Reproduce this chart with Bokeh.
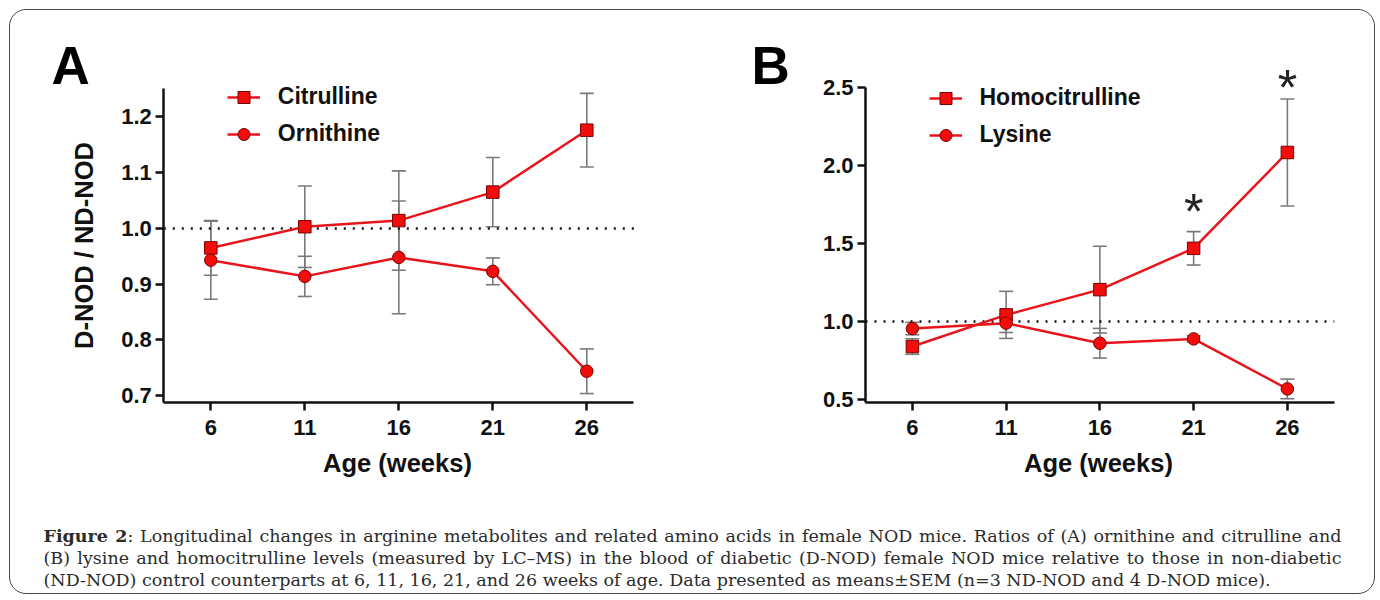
import math
from bokeh.plotting import figure
from bokeh.models import (ColumnDataSource, Whisker, TeeHead, Legend, LegendItem,
                          FixedTicker, PrintfTickFormatter, Label, Div, Range1d, LinearAxis)
from bokeh.layouts import row, column
from bokeh.embed import file_html
from bokeh.resources import INLINE

# ---------------- data ----------------
weeks = [6, 11, 16, 21, 26]

citrulline = [0.965, 1.003, 1.014, 1.065, 1.176]
citrulline_sem = [0.049, 0.073, 0.089, 0.062, 0.066]
ornithine = [0.943, 0.914, 0.948, 0.923, 0.744]
ornithine_sem = [0.070, 0.036, 0.101, 0.024, 0.040]

homocitrulline = [0.840, 1.043, 1.205, 1.470, 2.085]
homocitrulline_sem = [0.050, 0.151, 0.278, 0.107, 0.343]
lysine = [0.955, 0.990, 0.861, 0.889, 0.568]
lysine_sem = [0.040, 0.060, 0.095, 0.020, 0.063]

y_ticks_a = [0.7, 0.8, 0.9, 1.0, 1.1, 1.2]
y_ticks_b = [0.5, 1.0, 1.5, 2.0, 2.5]

star_weeks = [21, 26]
star_values = [1.70, 2.50]

reference_ratio = 1.0

caption_lines = [
    ("Figure 2", ": Longitudinal changes in arginine metabolites and related amino acids in female NOD mice. Ratios of (A) ornithine and citrulline and"),
    ("", "(B) lysine and homocitrulline levels (measured by LC\u2013MS) in the blood of diabetic (D-NOD) female NOD mice relative to those in non-diabetic"),
    ("", "(ND-NOD) control counterparts at 6, 11, 16, 21, and 26 weeks of age. Data presented as means\u00b1SEM (n=3 ND-NOD and 4 D-NOD mice)."),
]

# ---------------- styles / geometry ----------------
SANS = "Liberation Sans"
RED_LINE = "#e8141b"
RED_FILL = "#f20d0d"
MARKER_EDGE = "#7a0000"
ERR = "#7a7a7a"
INK = "#111111"

FIG_TOP = 10          # page y of the panels' top edge
PANEL_H = 485
X_AX = (3.5, 28.5)    # extent of the x axis line (weeks)
BASE_SHIFT = 0.38     # em; correction between requested and drawn alphabetic baseline


def rng(v0, p0, v1, p1, lo, hi):
    k = (v1 - v0) / (p1 - p0)
    a, b = v0 + (lo - p0) * k, v0 + (hi - p0) * k
    return Range1d(min(a, b), max(a, b))


def make_panel(letter, series, fig_left, width, x_px, y_ax, y_px, yticks,
               ylab_base_x, xlab_center_x, legend_glyph_x, legend_bottom, letter_x, stars=None):
    xr = rng(X_AX[0], x_px[0], X_AX[1], x_px[1], fig_left, fig_left + width)
    yr = rng(y_ax[0], y_px[0], y_ax[1], y_px[1], FIG_TOP, FIG_TOP + PANEL_H)
    p = figure(width=width, height=PANEL_H, x_range=xr, y_range=yr,
               output_backend="svg", toolbar_location=None,
               x_axis_location=None, y_axis_location=None, min_border=0)
    p.outline_line_color = None
    p.grid.visible = False
    p.background_fill_color = None
    p.border_fill_color = None

    def sx(page_x):
        return page_x - fig_left

    def sy(page_y):
        return FIG_TOP + PANEL_H - page_y

    # dotted reference line at ratio 1
    p.segment(x0=[X_AX[0]], y0=[reference_ratio], x1=[X_AX[1]], y1=[reference_ratio],
              line_color=INK, line_width=2.5, line_dash="2 7")

    items = []
    for name, vals, sems, marker in series:
        src = ColumnDataSource(dict(x=weeks, y=vals,
                                    upper=[v + s for v, s in zip(vals, sems)],
                                    lower=[v - s for v, s in zip(vals, sems)]))
        p.add_layout(Whisker(source=src, base="x", upper="upper", lower="lower",
                             line_color=ERR, line_width=1.6,
                             upper_head=TeeHead(size=14, line_color=ERR, line_width=1.6),
                             lower_head=TeeHead(size=14, line_color=ERR, line_width=1.6)))
        lr = p.line("x", "y", source=src, line_color=RED_LINE, line_width=2.5)
        sr = p.scatter("x", "y", source=src, marker=marker, size=12.5,
                       fill_color=RED_FILL, line_color=MARKER_EDGE, line_width=1)
        items.append(LegendItem(label=name, renderers=[lr, sr]))

    legend = Legend(items=items, location=(sx(legend_glyph_x), sy(legend_bottom)),
                    glyph_width=33, glyph_height=30, label_height=30, label_standoff=18,
                    spacing=7, padding=0, margin=0, border_line_color=None,
                    background_fill_alpha=0, label_text_font=SANS,
                    label_text_font_style="bold", label_text_font_size="23px",
                    label_text_color=INK)
    p.add_layout(legend)

    xaxis = LinearAxis(fixed_location=y_ax[0], bounds=X_AX, ticker=FixedTicker(ticks=weeks))
    yaxis = LinearAxis(fixed_location=X_AX[0], bounds=y_ax, ticker=FixedTicker(ticks=yticks),
                       formatter=PrintfTickFormatter(format="%.1f"))
    for ax in (xaxis, yaxis):
        ax.axis_line_width = 2.5
        ax.axis_line_color = INK
        ax.major_tick_line_width = 2.5
        ax.major_tick_line_color = INK
        ax.major_tick_out = 8
        ax.major_tick_in = 0
        ax.minor_tick_line_color = None
        ax.major_label_text_font = SANS
        ax.major_label_text_font_style = "bold"
        ax.major_label_text_font_size = "22px"
        ax.major_label_text_color = INK
    xaxis.major_label_standoff = 10
    yaxis.major_label_standoff = 4
    p.add_layout(xaxis, "below")
    p.add_layout(yaxis, "left")

    lab_fs = 25.5
    # axis titles
    p.add_layout(Label(x=sx(ylab_base_x - BASE_SHIFT * lab_fs), y=sy(245),
                       x_units="screen", y_units="screen",
                       text="D-NOD / ND-NOD", angle=math.pi / 2, text_align="center",
                       text_baseline="alphabetic", text_font=SANS, text_font_style="bold",
                       text_font_size=f"{lab_fs}px", text_color=INK))
    p.add_layout(Label(x=sx(xlab_center_x), y=sy(472 - BASE_SHIFT * lab_fs),
                       x_units="screen", y_units="screen",
                       text="Age (weeks)", text_align="center", text_baseline="alphabetic",
                       text_font=SANS, text_font_style="bold", text_font_size=f"{lab_fs}px",
                       text_color=INK))
    # panel letter
    let_fs = 53
    p.add_layout(Label(x=sx(letter_x), y=sy(85 - BASE_SHIFT * let_fs),
                       x_units="screen", y_units="screen",
                       text=letter, text_font=SANS, text_font_style="bold",
                       text_font_size=f"{let_fs}px", text_color="#000000",
                       text_baseline="alphabetic"))

    if stars:
        for wk, val in zip(*stars):
            p.add_layout(Label(x=wk, y=val, text="*", text_align="center",
                               text_baseline="middle", text_font=SANS,
                               text_font_size="50px", text_color="#222222"))
    return p


pA = make_panel("A", [("Citrulline", citrulline, citrulline_sem, "square"),
                      ("Ornithine", ornithine, ornithine_sem, "circle")],
                fig_left=10, width=690, x_px=(163.3, 633.3),
                y_ax=(0.6885, 1.2507), y_px=(401.7, 88.0), yticks=y_ticks_a,
                ylab_base_x=93, xlab_center_x=397, legend_glyph_x=227.3, legend_bottom=149,
                letter_x=51)
pB = make_panel("B", [("Homocitrulline", homocitrulline, homocitrulline_sem, "square"),
                      ("Lysine", lysine, lysine_sem, "circle")],
                fig_left=700, width=674, x_px=(865.0, 1333.75),
                y_ax=(0.4827, 2.5), y_px=(401.7, 87.3), yticks=y_ticks_b,
                ylab_base_x=94, xlab_center_x=1098, legend_glyph_x=929, legend_bottom=150,
                letter_x=751, stars=(star_weeks, star_values))

line_divs = []
for i, (bold, rest) in enumerate(caption_lines):
    content = (f"<b>{bold}</b>" if bold else "") + rest
    if i < len(caption_lines) - 1:
        st = "width:1298px;text-align:justify;text-align-last:justify;white-space:nowrap;"
    else:
        st = "white-space:nowrap;"
    line_divs.append(f'<div style="{st}">{content}</div>')

cap_html = ('<div style="font-family:\'DejaVu Serif\';font-size:17.5px;line-height:22.3px;'
            'color:#2b2b2b;padding:30px 0 0 34px;">' + "".join(line_divs) + "</div>")
cap = Div(text=cap_html, width=1364, height=98, margin=0)

layout = column(row(pA, pB), cap,
                styles={"margin-left": "8.5px", "margin-top": "8.5px",
                        "border": "1.5px solid #4a4a4a", "border-radius": "17px"})

open("out.html", "w").write(file_html(layout, INLINE))
